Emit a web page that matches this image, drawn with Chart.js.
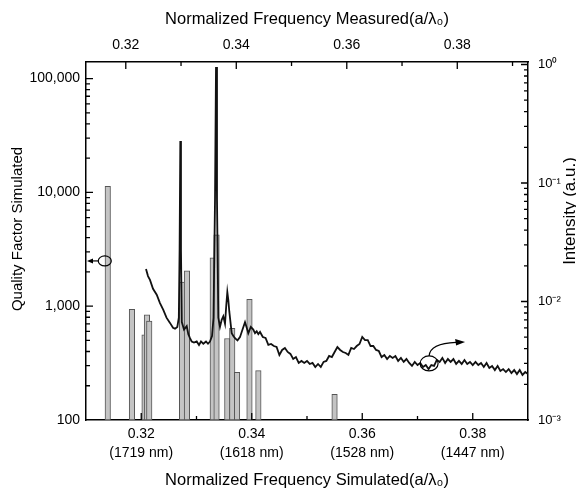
<!DOCTYPE html>
<html>
<head>
<meta charset="utf-8">
<script src="https://cdn.jsdelivr.net/npm/chart.js@4.4.1/dist/chart.umd.min.js"></script>
<style>
  html, body { margin: 0; padding: 0; background: #fff; }
  #wrap { width: 576px; height: 489px; }
</style>
</head>
<body>
<div id="wrap"><canvas id="qChart" width="576" height="489"></canvas></div>
<script>
// simulated modes: bottom axis / left axis
const simFreq = [0.31344, 0.31782, 0.32010, 0.32053, 0.32095, 0.32689, 0.32777, 0.33244, 0.33313,
                 0.33507, 0.33597, 0.33684, 0.33909, 0.34070, 0.35449];
const qFactor = [11300, 940, 560, 840, 740, 1630, 2050, 2660, 4240, 520, 640, 263, 1150, 272, 168];

// measured spectrum: top axis / right axis
const measFreq = [
  0.32366, 0.32402, 0.32438, 0.32493, 0.32560, 0.32619, 0.32679, 0.32737, 0.32800, 0.32855,
  0.32891, 0.32933, 0.32960, 0.32974, 0.32987, 0.32999, 0.33014, 0.33054, 0.33103, 0.33132,
  0.33162, 0.33193, 0.33235, 0.33284, 0.33325, 0.33361, 0.33403, 0.33452, 0.33488, 0.33524,
  0.33561, 0.33588, 0.33615, 0.33633, 0.33651, 0.33675, 0.33705, 0.33736, 0.33765, 0.33796,
  0.33819, 0.33838, 0.33856, 0.33874, 0.33917, 0.33950, 0.33977, 0.34022, 0.34067, 0.34113,
  0.34158, 0.34189, 0.34218, 0.34263, 0.34308, 0.34339, 0.34370, 0.34399,
  0.3443, 0.3448, 0.3453, 0.3458, 0.3463, 0.3468, 0.3473, 0.3478, 0.3483, 0.3488,
  0.3493, 0.3498, 0.3503, 0.3508, 0.3513, 0.3518, 0.3523, 0.3528, 0.3533, 0.3538,
  0.3543, 0.3548, 0.3553, 0.3558, 0.3563, 0.3568, 0.3573, 0.3578, 0.3583, 0.3588,
  0.3593, 0.3598, 0.3603, 0.3608, 0.3613, 0.3618, 0.3623, 0.3628, 0.3633, 0.3638,
  0.3643, 0.3648, 0.3653, 0.3658, 0.3663, 0.3668, 0.3673, 0.3678, 0.3683, 0.3688,
  0.3693, 0.3698, 0.3703, 0.3708, 0.3713, 0.3718, 0.3723, 0.3728, 0.3733, 0.3738,
  0.3743, 0.3748, 0.3753, 0.3758, 0.3763, 0.3768, 0.3773, 0.3778, 0.3783, 0.3788,
  0.3793, 0.3798, 0.3803, 0.3808, 0.3813, 0.3818, 0.3823, 0.3828, 0.3833, 0.3838,
  0.3843, 0.3848, 0.3853, 0.3858, 0.3863, 0.3868, 0.3873, 0.3878, 0.3883, 0.3888,
  0.3893, 0.3898, 0.3903, 0.3908, 0.3913, 0.3918, 0.3923, 0.3928
];
const intensity = [
  0.0188, 0.0164, 0.0152, 0.0128, 0.0114, 0.0097, 0.0085, 0.0073, 0.0066, 0.0060,
  0.0059, 0.0061, 0.0073, 0.0272, 0.226, 0.0272, 0.0067, 0.0058, 0.0062, 0.0053,
  0.0049, 0.0046, 0.0045, 0.0046, 0.0043, 0.0046, 0.0044, 0.0046, 0.0044, 0.0046,
  0.0051, 0.0073, 0.0719, 0.953, 0.0719, 0.0073, 0.0061, 0.0070, 0.0075, 0.0065,
  0.0093, 0.0120, 0.0103, 0.0082, 0.0054, 0.0051, 0.0049, 0.0047, 0.0050, 0.0058,
  0.0067, 0.0060, 0.0054, 0.0061, 0.0058, 0.0054, 0.0056, 0.0053,
  0.00553, 0.00502, 0.00492, 0.00430, 0.00438, 0.00421, 0.00413, 0.00354, 0.00390, 0.00405,
  0.00375, 0.00361, 0.00327, 0.00340, 0.00303, 0.00315, 0.00303, 0.00315, 0.00297, 0.00303,
  0.00280, 0.00297, 0.00280, 0.00309, 0.00315, 0.00347, 0.00340, 0.00375, 0.00413, 0.00390,
  0.00375, 0.00368, 0.00354, 0.00405, 0.00397, 0.00421, 0.00438, 0.00502, 0.00473, 0.00473,
  0.00421, 0.00421, 0.00390, 0.00382, 0.00340, 0.00354, 0.00327, 0.00347, 0.00334, 0.00347,
  0.00315, 0.00334, 0.00309, 0.00327, 0.00303, 0.00286, 0.00309, 0.00291, 0.00303, 0.00280,
  0.00291, 0.00269, 0.00291, 0.00286, 0.00321, 0.00309, 0.00334, 0.00303, 0.00327, 0.00309,
  0.00327, 0.00297, 0.00315, 0.00297, 0.00321, 0.00297, 0.00309, 0.00291, 0.00309, 0.00291,
  0.00303, 0.00280, 0.00303, 0.00275, 0.00286, 0.00264, 0.00286, 0.00259, 0.00269, 0.00254,
  0.00269, 0.00249, 0.00264, 0.00244, 0.00264, 0.00240, 0.00254, 0.00244
];

// ticks and labels
const simTicks = [0.32, 0.34, 0.36, 0.38];
const wavelengthLabels = ['(1719 nm)', '(1618 nm)', '(1528 nm)', '(1447 nm)'];
const measTicks = [0.32, 0.34, 0.36, 0.38];
const qTicks = [100, 1000, 10000, 100000];
const intensityTicks = [0.001, 0.01, 0.1, 1];
const intensityLabels = ['10\u207B\u00B3', '10\u207B\u00B2', '10\u207B\u00B9', '10\u2070'];

// the two circled markers (which axis each data set belongs to)
const qMarker = [0.3134, 2500];
const iMarker = [0.3749, 0.0030];

const FONT = '"Liberation Sans", Arial, Helvetica, sans-serif';
Chart.defaults.font.family = FONT;
Chart.defaults.color = '#000';

// tick marks pointing into the plot, like the original
const innerTicks = {
  id: 'innerTicks',
  afterDraw(chart) {
    const {ctx, chartArea: a, scales} = chart;
    ctx.save();
    ctx.strokeStyle = '#000';
    ctx.lineWidth = 1.3;
    ctx.beginPath();
    [['x', a.bottom, -1], ['x2', a.top, 1]].forEach(([id, y0, dir]) => {
      const s = scales[id];
      for (let k = Math.ceil(s.min * 100 - 1e-6); k <= Math.floor(s.max * 100 + 1e-6); k++) {
        const px = s.getPixelForValue(k / 100);
        if (px < a.left + 2 || px > a.right - 2) continue;
        const len = k % 2 === 0 ? 7 : 4;
        ctx.moveTo(px, y0);
        ctx.lineTo(px, y0 + dir * len);
      }
    });
    [['y', a.left, 1], ['y2', a.right, -1]].forEach(([id, x0, dir]) => {
      const s = scales[id];
      for (let e = Math.floor(Math.log10(s.min)); e <= Math.ceil(Math.log10(s.max)); e++) {
        for (let m = 1; m <= 9; m++) {
          const v = m * Math.pow(10, e);
          if (v < s.min * 0.999 || v > s.max) continue;
          const py = s.getPixelForValue(v);
          if (py > a.bottom - 2 || py < a.top + 2) continue;
          const len = m === 1 ? 7 : 4;
          ctx.moveTo(x0, py);
          ctx.lineTo(x0 + dir * len, py);
        }
      }
    });
    ctx.stroke();
    ctx.restore();
  }
};

// circles + arrows telling which axis goes with which data
const markers = {
  id: 'markers',
  afterDatasetsDraw(chart) {
    const {ctx, chartArea: a, scales} = chart;
    ctx.save();
    ctx.strokeStyle = '#000';
    ctx.fillStyle = '#000';
    ctx.lineWidth = 1.2;

    let cx = scales.x.getPixelForValue(qMarker[0]);
    let cy = scales.y.getPixelForValue(qMarker[1]);
    ctx.beginPath();
    ctx.ellipse(cx, cy, 6.5, 5, 0, 0, 2 * Math.PI);
    ctx.stroke();
    ctx.beginPath();
    ctx.moveTo(cx - 6.5, cy);
    ctx.lineTo(a.left + 5, cy);
    ctx.stroke();
    ctx.beginPath();
    ctx.moveTo(a.left + 1, cy);
    ctx.lineTo(a.left + 7, cy - 2.5);
    ctx.lineTo(a.left + 7, cy + 2.5);
    ctx.closePath();
    ctx.fill();

    cx = scales.x2.getPixelForValue(iMarker[0]);
    cy = scales.y2.getPixelForValue(iMarker[1]);
    ctx.beginPath();
    ctx.ellipse(cx, cy, 9, 7.5, 0, 0, 2 * Math.PI);
    ctx.stroke();
    ctx.beginPath();
    ctx.moveTo(cx, cy - 7.5);
    ctx.quadraticCurveTo(cx + 1, cy - 20, cx + 27, cy - 21);
    ctx.stroke();
    ctx.beginPath();
    ctx.moveTo(cx + 36, cy - 21.5);
    ctx.lineTo(cx + 26, cy - 24.5);
    ctx.lineTo(cx + 27, cy - 18);
    ctx.closePath();
    ctx.fill();
    ctx.restore();
  }
};

// vertical axis titles (right one reads bottom-to-top as in the original)
const sideTitles = {
  id: 'sideTitles',
  afterDraw(chart) {
    const {ctx, chartArea: a} = chart;
    const mid = (a.top + a.bottom) / 2;
    ctx.save();
    ctx.fillStyle = '#000';
    ctx.textAlign = 'center';
    ctx.textBaseline = 'middle';
    ctx.font = '15px ' + FONT;
    ctx.translate(a.left - 68, mid - 12);
    ctx.rotate(-Math.PI / 2);
    ctx.fillText('Quality Factor Simulated', 0, 0);
    ctx.restore();

    ctx.save();
    ctx.fillStyle = '#000';
    ctx.textAlign = 'center';
    ctx.textBaseline = 'middle';
    ctx.font = '17px ' + FONT;
    ctx.translate(a.right + 42, mid - 30);
    ctx.rotate(-Math.PI / 2);
    ctx.fillText('Intensity (a.u.)', 0, 0);
    ctx.restore();
  }
};

const tickFont = { size: 14, lineHeight: 1.35 };
const noGrid = { display: false, drawTicks: false, offset: false };
const frame = { display: true, color: '#000', width: 1.5 };

new Chart(document.getElementById('qChart'), {
  data: {
    datasets: [
      {
        type: 'line',
        label: 'Measured',
        data: measFreq.map((f, i) => ({ x: f, y: intensity[i] })),
        xAxisID: 'x2',
        yAxisID: 'y2',
        borderColor: '#111',
        borderWidth: 1.8,
        pointRadius: 0,
        tension: 0,
        order: 0
      },
      {
        type: 'bar',
        label: 'Simulated Q',
        data: simFreq.map((f, i) => ({ x: f, y: qFactor[i] })),
        xAxisID: 'x',
        yAxisID: 'y',
        backgroundColor: '#c4c4c4',
        borderColor: '#555',
        borderWidth: 1,
        borderSkipped: false,
        barThickness: 5.5,
        order: 1
      }
    ]
  },
  options: {
    responsive: false,
    animation: false,
    layout: { padding: 0 },
    plugins: { legend: { display: false }, tooltip: { enabled: false } },
    scales: {
      x: {
        type: 'linear', position: 'bottom', min: 0.31, max: 0.39, offset: false,
        afterBuildTicks: s => { s.ticks = simTicks.map(v => ({ value: v })); },
        afterFit: s => { s.height = 69; },
        ticks: {
          font: tickFont, padding: 4.5, maxRotation: 0, autoSkip: false,
          callback: (v, i) => [v.toFixed(2), wavelengthLabels[i]]
        },
        grid: noGrid, border: frame,
        title: {
          display: true, text: 'Normalized Frequency Simulated(a/\u03BB\u2080)',
          font: { size: 16.5, lineHeight: 1 }, padding: { top: 0, bottom: 0 }
        }
      },
      x2: {
        type: 'linear', position: 'top', min: 0.3128, max: 0.3928, offset: false,
        afterBuildTicks: s => { s.ticks = measTicks.map(v => ({ value: v })); },
        afterFit: s => { s.height = 62; },
        ticks: {
          font: { size: 14, lineHeight: 1.2 }, padding: 8, maxRotation: 0, autoSkip: false,
          callback: v => v.toFixed(2)
        },
        grid: noGrid, border: frame,
        title: {
          display: true, text: 'Normalized Frequency Measured(a/\u03BB\u2080)',
          font: { size: 16.5, lineHeight: 1 }, padding: { top: 11, bottom: 0 }
        }
      },
      y: {
        type: 'logarithmic', position: 'left', min: 100, max: 140000,
        afterBuildTicks: s => { s.ticks = qTicks.map(v => ({ value: v })); },
        afterFit: s => { s.width = 86; },
        ticks: {
          font: { size: 14 }, padding: 6, autoSkip: false,
          callback: v => v.toLocaleString('en-US')
        },
        grid: noGrid, border: frame
      },
      y2: {
        type: 'logarithmic', position: 'right', min: 0.001, max: 1.05,
        afterBuildTicks: s => { s.ticks = intensityTicks.map(v => ({ value: v })); },
        afterFit: s => { s.width = 48; },
        ticks: {
          font: { size: 13 }, padding: 10, autoSkip: false,
          callback: (v, i) => intensityLabels[i]
        },
        grid: noGrid, border: frame
      }
    }
  },
  plugins: [markers, innerTicks, sideTitles]
});
</script>
</body>
</html>
